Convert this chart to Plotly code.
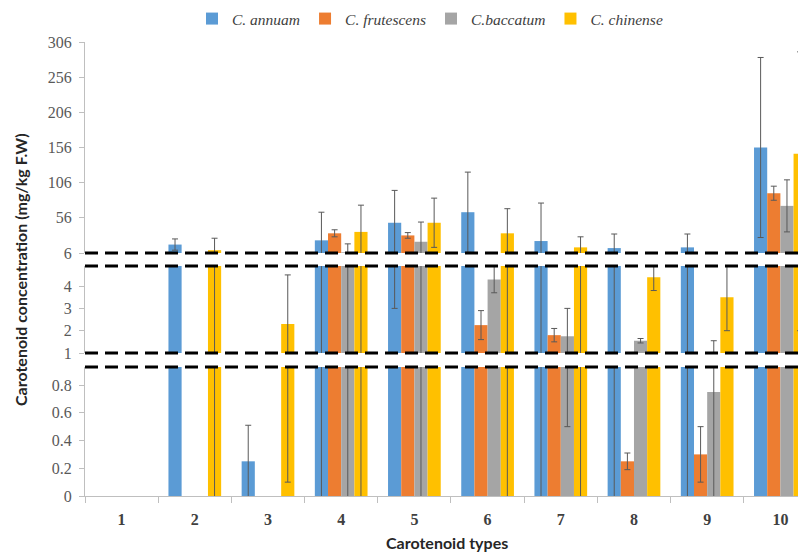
import plotly.graph_objects as go

# ---------------- data ----------------
categories = [1, 2, 3, 4, 5, 6, 7, 8, 9, 10]
cat_labels = ["1", "2", "3", "4", "5", "6", "7", "8", "9", "10"]
series_names = ["C. annuam", "C. frutescens", "C.baccatum", "C. chinense"]

annuum = [0, 18, 0.25, 24, 49, 64, 23, 13, 14, 156]
annuum_err = [0, 8, 0.26, 40, 46, 57, 54, 20, 19, 128]
frutescens = [0, 0, 0, 34, 31, 2.25, 1.8, 0.25, 0.3, 91]
frutescens_err = [0, 0, 0, 5, 4, 0.65, 0.3, 0.06, 0.2, 10]
baccatum = [0, 0, 0, 7, 22, 4.3, 1.75, 1.55, 0.75, 73]
baccatum_err = [0, 0, 0, 12, 28, 0.6, 1.25, 0.1, 0.8, 37]
chinense = [0, 10, 2.3, 36, 49, 34, 14, 4.4, 3.5, 147]
chinense_err = [0, 17, 2.2, 38, 35, 35, 15, 0.6, 1.5, 145]

# y-axis ticks of the three broken-axis panels
low_ticks = [0, 0.2, 0.4, 0.6, 0.8]
low_labels = ["0", "0.2", "0.4", "0.6", "0.8"]
mid_ticks = [1, 2, 3, 4]
mid_labels = ["1", "2", "3", "4"]
top_ticks = [6, 56, 106, 156, 206, 256, 306]
top_labels = ["6", "56", "106", "156", "206", "256", "306"]

values = [annuum, frutescens, baccatum, chinense]
errors = [annuum_err, frutescens_err, baccatum_err, chinense_err]
colors = ["#5B9BD5", "#ED7D31", "#A5A5A5", "#FFC000"]

# ---------------- layout geometry ----------------
# the page body has an 8px margin, so the figure is drawn 8px right/down
OFF = 8
W, H = 806 - OFF, 554 - OFF
plot_left, plot_top, plot_bottom = 85 - OFF, 42 - OFF, 496 - OFF
ml, mr, mt, mb = plot_left, 0, plot_top, H - plot_bottom
plot_h = H - mt - mb
plot_w = W - ml - mr


def py(px):
    """screen pixel row -> paper fraction"""
    return (plot_bottom - (px - OFF)) / plot_h


def pxx(px):
    """screen pixel column -> paper fraction"""
    return ((px - OFF) - plot_left) / plot_w


panels = [
    ("y", "yaxis", (496, 367), [0, 0.93], low_ticks, low_labels),
    ("y2", "yaxis2", (353, 266), [1, 4.9], mid_ticks, mid_labels),
    ("y3", "yaxis3", (253, 42), [6, 306], top_ticks, top_labels),
]

fig = go.Figure()
bw = 0.18
for p_i, (yref, _, _, _, _, _) in enumerate(panels):
    for s_i, name in enumerate(series_names):
        vals = [v if v != 0 else None for v in values[s_i]]
        fig.add_trace(go.Bar(
            x=categories, y=vals, name=name, xaxis="x", yaxis=yref,
            width=bw, offset=-2 * bw + s_i * bw,
            marker=dict(color=colors[s_i], line=dict(width=0)),
            error_y=dict(type="data", array=errors[s_i], visible=True,
                         color="#595959", thickness=1, width=3),
            showlegend=(p_i == 2), legendgroup=name,
        ))

axis_common = dict(
    showline=True, linecolor="#BFBFBF", linewidth=1,
    ticks="outside", ticklen=5, tickcolor="#BFBFBF",
    showgrid=False, zeroline=False, anchor="x", ticklabelstandoff=4,
    tickfont=dict(family="Liberation Serif", size=16, color="#595959"),
    tickmode="array",
)

layout_axes = {}
for yref, key, (pb, pt), rng, tv, tt in panels:
    layout_axes[key] = dict(axis_common, domain=[py(pb), py(pt)], range=rng,
                            tickvals=tv, ticktext=tt)

fig.update_layout(
    width=W, height=H,
    margin=dict(l=ml, r=mr, t=mt, b=mb, autoexpand=False),
    paper_bgcolor="white", plot_bgcolor="white",
    barmode="overlay",
    xaxis=dict(
        range=[0.5, 10.35], anchor="y",
        tickmode="array", tickvals=categories, ticktext=cat_labels,
        ticks="", showline=True, linecolor="#BFBFBF", showgrid=False,
        zeroline=False, ticklabelstandoff=9,
        tickfont=dict(family="Liberation Serif", size=16, color="#404040", weight="bold"),
        minor=dict(tickmode="array", tickvals=[c - 0.5 for c in categories],
                   ticks="outside", ticklen=6, tickcolor="#BFBFBF", showgrid=False),
    ),
    legend=dict(
        orientation="h", x=pxx(430), xanchor="center",
        yref="container", y=1 - (19 - OFF) / H, yanchor="middle",
        itemwidth=30, tracegroupgap=0,
        font=dict(family="Liberation Serif", size=15.5, color="#404040", style="italic"),
        bgcolor="rgba(0,0,0,0)",
    ),
    **layout_axes,
)

# broken-axis dashed markers
shapes = []
for px in [253, 266, 353, 367]:
    shapes.append(dict(type="line", xref="paper", yref="paper", x0=0, x1=1,
                       y0=py(px), y1=py(px), layer="above",
                       line=dict(color="black", width=3, dash="13px,7px")))
fig.update_layout(shapes=shapes)

fig.add_annotation(text="Carotenoid types", xref="paper", yref="paper",
                   x=pxx(447), y=py(542), showarrow=False,
                   xanchor="center", yanchor="middle",
                   font=dict(family="Lato", size=16, color="#262626", weight="bold"))
fig.add_annotation(text="Carotenoid concentration (mg/kg F.W)", xref="paper", yref="paper",
                   x=pxx(20), y=py(270), showarrow=False,
                   textangle=-90, xanchor="center", yanchor="middle",
                   font=dict(family="Lato", size=16, color="#262626", weight="bold"))

fig.write_html("out.html")
